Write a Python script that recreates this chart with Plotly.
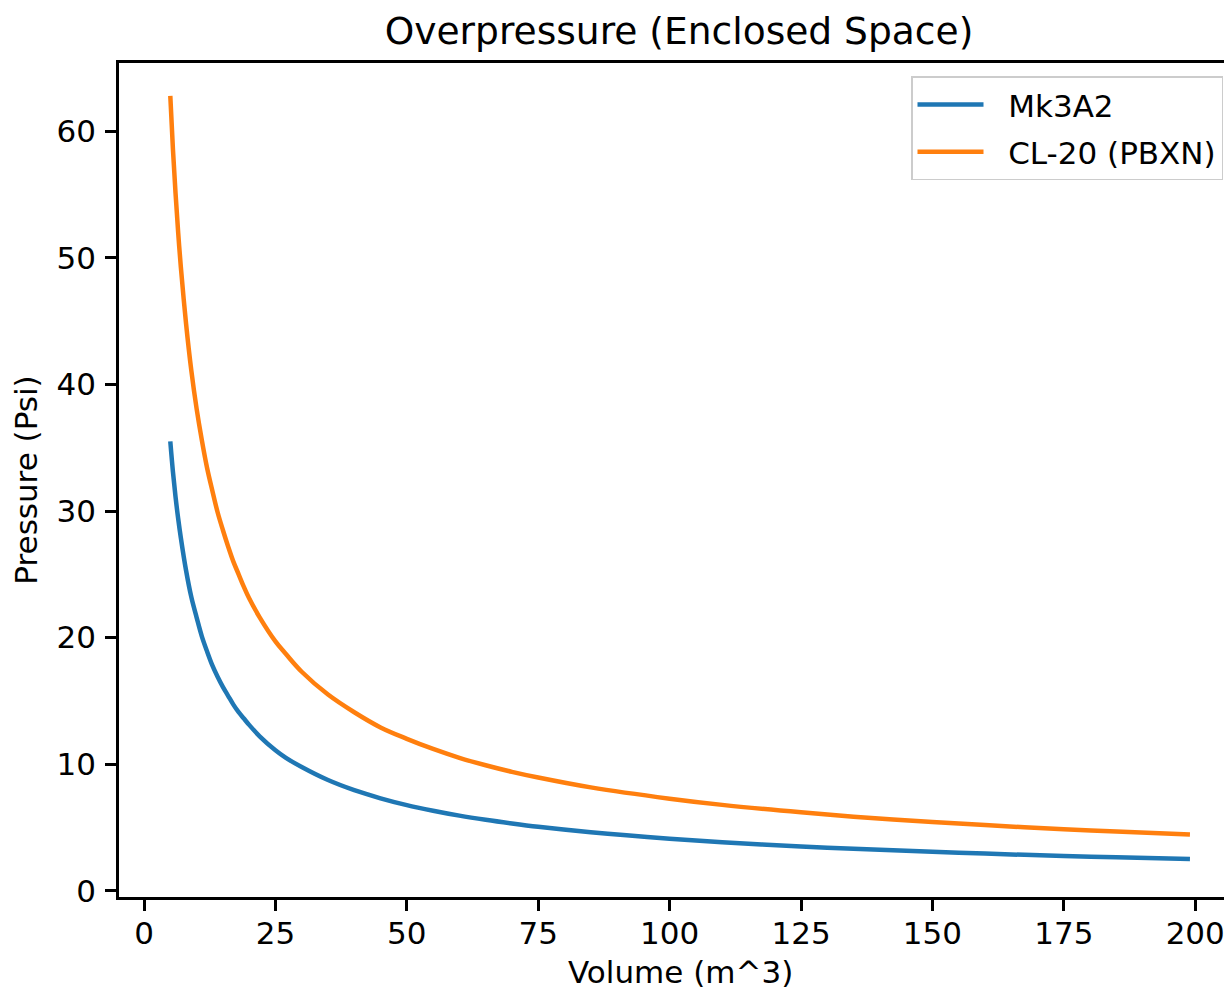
import plotly.graph_objects as go

# Volume (m^3) sample points
volume = [5, 5.5, 6, 6.5, 7, 8, 9, 10, 11, 12, 13, 14, 15, 16, 17, 18, 19, 20, 22,
          25, 27, 30, 35, 40, 45, 50, 55, 60, 65, 70, 75, 85, 100, 110, 125, 135,
          150, 160, 175, 185, 199]

# Pressure (Psi) for each explosive
mk3a2 = [35.5, 33.1, 31.1, 29.4, 27.9, 25.3, 23.2, 21.6, 20.1, 18.9, 17.8, 16.9,
         16.1, 15.4, 14.7, 14.1, 13.6, 13.1, 12.2, 11.1, 10.5, 9.77, 8.74, 7.94,
         7.30, 6.76, 6.32, 5.93, 5.60, 5.31, 5.05, 4.62, 4.11, 3.83, 3.50, 3.31,
         3.07, 2.93, 2.74, 2.64, 2.50]
cl20 = [62.8, 58.6, 55.1, 52.0, 49.3, 44.8, 41.1, 38.1, 35.6, 33.4, 31.6, 29.9,
        28.5, 27.2, 26.0, 25.0, 24.0, 23.1, 21.6, 19.7, 18.7, 17.3, 15.5, 14.1,
        12.9, 12.0, 11.2, 10.5, 9.91, 9.39, 8.94, 8.16, 7.27, 6.78, 6.19, 5.85,
        5.43, 5.18, 4.85, 4.67, 4.43]

series_names = ["Mk3A2", "CL-20 (PBXN)"]
series_colors = ["#1f77b4", "#ff7f0e"]
x_ticks = [0, 25, 50, 75, 100, 125, 150, 175, 200]
y_ticks = [0, 10, 20, 30, 40, 50, 60]

FONT = "DejaVu Sans"
TICK_PX = 31
TITLE_PX = 37.6
OFF = 8  # page body margin offset
W, H = 1232 - OFF, 994 - OFF

fig = go.Figure()
for i, (name, vals) in enumerate(zip(series_names, [mk3a2, cl20])):
    fig.add_trace(go.Scatter(
        x=volume, y=vals, mode="lines", name="\u00a0\u00a0" + name,
        line=dict(color=series_colors[i], width=4.5, shape="spline", smoothing=1.0),
        legendgroup=f"g{i}",
    ))

axis_common = dict(
    showline=True, linecolor="black", linewidth=2.5,
    ticks="outside", ticklen=11, tickwidth=2.5, tickcolor="black",
    showgrid=False, zeroline=False,
    tickfont=dict(family=FONT, size=TICK_PX, color="black"),
)

fig.update_layout(
    width=W, height=H,
    paper_bgcolor="white", plot_bgcolor="white",
    margin=dict(l=119 - OFF, r=0, t=63 - OFF, b=H + OFF - 897, autoexpand=False),
    font=dict(family=FONT, size=TICK_PX, color="black"),
    title=dict(text="Overpressure (Enclosed Space)", x=(679 - OFF) / W, xanchor="center",
               xref="container", y=1 - (30.5 - OFF) / H, yanchor="middle", yref="container",
               font=dict(family=FONT, size=TITLE_PX, color="black")),
    xaxis=dict(range=[-4.76, 207.0], tickvals=x_ticks, mirror=True,
               ticklabelstandoff=-4, **axis_common),
    yaxis=dict(range=[-0.5, 65.4], tickvals=y_ticks, mirror=False,
               ticklabelstandoff=3,
               title=dict(text="Pressure (Psi)", standoff=10,
                          font=dict(family=FONT, size=TICK_PX, color="black")),
               **axis_common),
    legend=dict(x=(1223 - 119) / 1113, y=(897 - 76) / 834.3, xanchor="right", yanchor="top",
                bgcolor="rgba(255,255,255,0.8)", bordercolor="#cccccc", borderwidth=1.5,
                font=dict(family=FONT, size=TICK_PX, color="black"),
                itemwidth=66, tracegroupgap=4),
    showlegend=True,
    annotations=[dict(text="Volume (m^3)", xref="paper", yref="paper",
                      x=(680 - 119) / 1113, y=-(972 - 897) / 834.3,
                      xanchor="center", yanchor="middle", showarrow=False, borderpad=0,
                      font=dict(family=FONT, size=TICK_PX, color="black"))],
)

fig.write_html("out.html")
